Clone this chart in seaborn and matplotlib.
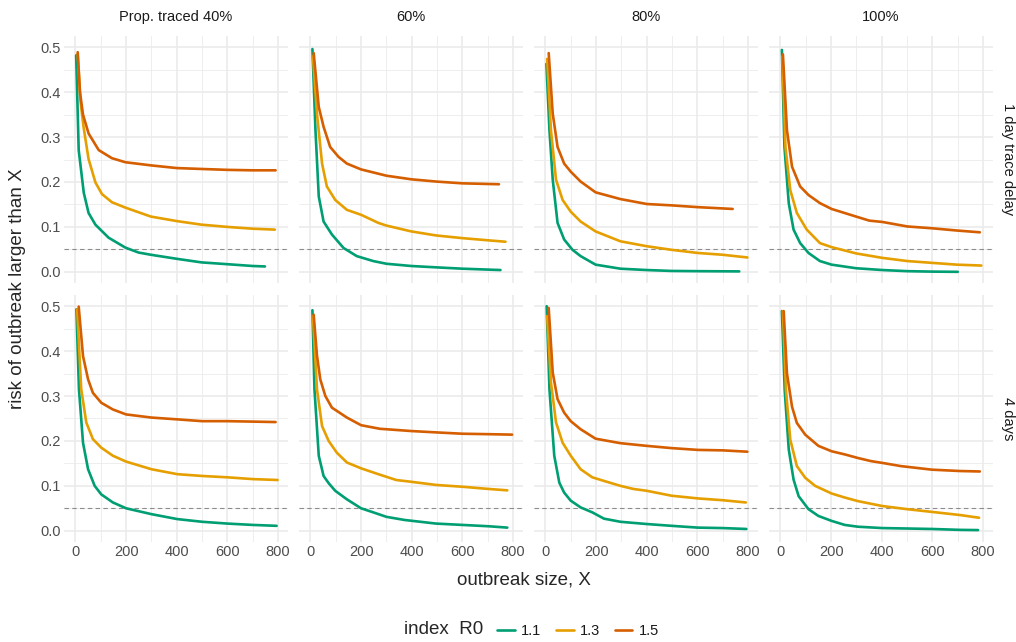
import pandas as pd
import matplotlib.pyplot as plt
import matplotlib.lines as mlines
import seaborn as sns

# column / row facet labels
traced = ["40%", "60%", "80%", "100%"]
delays = ["1 day trace delay", "4 days"]
r0_levels = ["1.1", "1.3", "1.5"]
r0_colors = {"1.1": "#009E73", "1.3": "#E69F00", "1.5": "#D55E00"}

# ---- 1 day trace delay ----
x_40_1d_r11 = [3, 13, 33, 52, 79, 131, 197, 249, 298, 400, 498, 600, 700, 748]
y_40_1d_r11 = [0.482, 0.271, 0.176, 0.131, 0.105, 0.076, 0.054, 0.043, 0.038, 0.029, 0.021, 0.017, 0.013, 0.012]
x_40_1d_r13 = [9, 20, 32, 52, 79, 105, 144, 197, 298, 400, 498, 600, 700, 787]
y_40_1d_r13 = [0.485, 0.38, 0.323, 0.251, 0.199, 0.173, 0.155, 0.143, 0.123, 0.113, 0.105, 0.100, 0.096, 0.094]
x_40_1d_r15 = [9, 18, 30, 52, 92, 144, 197, 298, 400, 498, 600, 700, 790]
y_40_1d_r15 = [0.489, 0.40, 0.35, 0.308, 0.271, 0.253, 0.244, 0.237, 0.231, 0.229, 0.227, 0.226, 0.226]

x_60_1d_r11 = [8, 20, 33, 52, 85, 131, 183, 248, 300, 398, 496, 600, 750]
y_60_1d_r11 = [0.496, 0.315, 0.168, 0.112, 0.083, 0.053, 0.035, 0.024, 0.018, 0.013, 0.010, 0.007, 0.004]
x_60_1d_r13 = [10, 26, 46, 65, 98, 144, 200, 268, 300, 398, 496, 600, 705, 770]
y_60_1d_r13 = [0.48, 0.352, 0.241, 0.19, 0.160, 0.138, 0.127, 0.109, 0.103, 0.090, 0.081, 0.075, 0.070, 0.067]
x_60_1d_r15 = [13, 33, 52, 78, 111, 144, 200, 300, 398, 496, 600, 744]
y_60_1d_r15 = [0.487, 0.367, 0.323, 0.278, 0.256, 0.241, 0.228, 0.214, 0.206, 0.201, 0.197, 0.195]

x_80_1d_r11 = [4, 16, 29, 48, 74, 107, 139, 198, 296, 400, 498, 602, 765]
y_80_1d_r11 = [0.463, 0.315, 0.205, 0.109, 0.072, 0.049, 0.035, 0.016, 0.007, 0.004, 0.002, 0.0015, 0.001]
x_80_1d_r13 = [7, 22, 42, 68, 100, 139, 198, 296, 400, 498, 602, 700, 797]
y_80_1d_r13 = [0.474, 0.315, 0.205, 0.160, 0.134, 0.112, 0.090, 0.068, 0.057, 0.049, 0.042, 0.038, 0.032]
x_80_1d_r15 = [13, 29, 48, 74, 100, 139, 198, 296, 400, 498, 602, 739]
y_80_1d_r15 = [0.487, 0.352, 0.278, 0.241, 0.223, 0.201, 0.177, 0.162, 0.151, 0.148, 0.144, 0.140]

x_100_1d_r11 = [6, 16, 33, 52, 78, 111, 156, 202, 299, 403, 501, 598, 700]
y_100_1d_r11 = [0.494, 0.278, 0.153, 0.094, 0.064, 0.042, 0.024, 0.016, 0.008, 0.004, 0.0015, 0.0005, 0.0]
x_100_1d_r13 = [8, 20, 39, 65, 104, 156, 202, 299, 403, 501, 598, 696, 793]
y_100_1d_r13 = [0.48, 0.278, 0.182, 0.131, 0.094, 0.064, 0.055, 0.041, 0.031, 0.024, 0.020, 0.016, 0.014]
x_100_1d_r15 = [10, 26, 46, 78, 111, 156, 202, 299, 351, 403, 501, 598, 696, 787]
y_100_1d_r15 = [0.484, 0.315, 0.234, 0.19, 0.171, 0.153, 0.140, 0.123, 0.114, 0.111, 0.101, 0.097, 0.092, 0.088]

# ---- 4 days ----
x_40_4d_r11 = [4, 14, 30, 50, 76, 102, 148, 200, 300, 402, 500, 600, 700, 794]
y_40_4d_r11 = [0.493, 0.315, 0.196, 0.137, 0.100, 0.081, 0.063, 0.050, 0.037, 0.026, 0.020, 0.016, 0.013, 0.011]
x_40_4d_r13 = [7, 23, 43, 69, 102, 148, 200, 300, 402, 500, 600, 700, 798]
y_40_4d_r13 = [0.493, 0.315, 0.241, 0.204, 0.185, 0.167, 0.154, 0.137, 0.126, 0.122, 0.119, 0.115, 0.113]
x_40_4d_r15 = [13, 30, 50, 69, 102, 148, 200, 300, 402, 500, 600, 700, 790]
y_40_4d_r15 = [0.499, 0.389, 0.337, 0.307, 0.285, 0.270, 0.259, 0.252, 0.248, 0.244, 0.244, 0.243, 0.242]

x_60_4d_r11 = [8, 16, 33, 52, 72, 98, 144, 200, 248, 300, 372, 496, 600, 705, 777]
y_60_4d_r11 = [0.491, 0.315, 0.167, 0.122, 0.106, 0.089, 0.070, 0.050, 0.041, 0.031, 0.024, 0.016, 0.013, 0.010, 0.007]
x_60_4d_r13 = [10, 26, 46, 72, 104, 144, 200, 268, 339, 398, 496, 600, 705, 777]
y_60_4d_r13 = [0.478, 0.315, 0.233, 0.200, 0.174, 0.152, 0.139, 0.126, 0.113, 0.109, 0.102, 0.098, 0.093, 0.090]
x_60_4d_r15 = [13, 26, 39, 59, 85, 104, 144, 200, 274, 300, 398, 496, 600, 705, 796]
y_60_4d_r15 = [0.481, 0.390, 0.337, 0.300, 0.274, 0.267, 0.252, 0.235, 0.227, 0.226, 0.222, 0.219, 0.216, 0.215, 0.214]

x_80_4d_r11 = [5, 16, 35, 55, 74, 100, 139, 185, 231, 296, 400, 498, 602, 700, 793]
y_80_4d_r11 = [0.5, 0.315, 0.167, 0.107, 0.085, 0.067, 0.052, 0.041, 0.027, 0.020, 0.015, 0.011, 0.007, 0.006, 0.004]
x_80_4d_r13 = [7, 22, 42, 68, 100, 139, 185, 231, 296, 348, 400, 498, 602, 700, 791]
y_80_4d_r13 = [0.478, 0.330, 0.241, 0.196, 0.167, 0.137, 0.119, 0.111, 0.100, 0.093, 0.089, 0.078, 0.072, 0.068, 0.063]
x_80_4d_r15 = [13, 29, 48, 74, 100, 139, 198, 296, 400, 498, 602, 700, 797]
y_80_4d_r15 = [0.496, 0.352, 0.293, 0.263, 0.244, 0.226, 0.205, 0.195, 0.189, 0.184, 0.180, 0.179, 0.176]

x_100_4d_r11 = [6, 17, 33, 52, 72, 111, 150, 202, 254, 306, 403, 501, 598, 709, 780]
y_100_4d_r11 = [0.489, 0.313, 0.181, 0.114, 0.077, 0.048, 0.033, 0.022, 0.013, 0.009, 0.006, 0.005, 0.004, 0.002, 0.0015]
x_100_4d_r13 = [10, 22, 39, 65, 98, 137, 202, 254, 306, 403, 501, 598, 709, 784]
y_100_4d_r13 = [0.489, 0.313, 0.203, 0.144, 0.118, 0.100, 0.083, 0.074, 0.066, 0.055, 0.048, 0.042, 0.035, 0.029]
x_100_4d_r15 = [13, 26, 46, 65, 98, 150, 202, 254, 306, 358, 403, 475, 598, 709, 787]
y_100_4d_r15 = [0.489, 0.350, 0.276, 0.240, 0.214, 0.189, 0.177, 0.170, 0.162, 0.155, 0.151, 0.144, 0.136, 0.133, 0.132]

threshold = 0.05

# build a long table from the named lists
curves = [
    ("40%", "1 day trace delay", "1.1", x_40_1d_r11, y_40_1d_r11),
    ("40%", "1 day trace delay", "1.3", x_40_1d_r13, y_40_1d_r13),
    ("40%", "1 day trace delay", "1.5", x_40_1d_r15, y_40_1d_r15),
    ("60%", "1 day trace delay", "1.1", x_60_1d_r11, y_60_1d_r11),
    ("60%", "1 day trace delay", "1.3", x_60_1d_r13, y_60_1d_r13),
    ("60%", "1 day trace delay", "1.5", x_60_1d_r15, y_60_1d_r15),
    ("80%", "1 day trace delay", "1.1", x_80_1d_r11, y_80_1d_r11),
    ("80%", "1 day trace delay", "1.3", x_80_1d_r13, y_80_1d_r13),
    ("80%", "1 day trace delay", "1.5", x_80_1d_r15, y_80_1d_r15),
    ("100%", "1 day trace delay", "1.1", x_100_1d_r11, y_100_1d_r11),
    ("100%", "1 day trace delay", "1.3", x_100_1d_r13, y_100_1d_r13),
    ("100%", "1 day trace delay", "1.5", x_100_1d_r15, y_100_1d_r15),
    ("40%", "4 days", "1.1", x_40_4d_r11, y_40_4d_r11),
    ("40%", "4 days", "1.3", x_40_4d_r13, y_40_4d_r13),
    ("40%", "4 days", "1.5", x_40_4d_r15, y_40_4d_r15),
    ("60%", "4 days", "1.1", x_60_4d_r11, y_60_4d_r11),
    ("60%", "4 days", "1.3", x_60_4d_r13, y_60_4d_r13),
    ("60%", "4 days", "1.5", x_60_4d_r15, y_60_4d_r15),
    ("80%", "4 days", "1.1", x_80_4d_r11, y_80_4d_r11),
    ("80%", "4 days", "1.3", x_80_4d_r13, y_80_4d_r13),
    ("80%", "4 days", "1.5", x_80_4d_r15, y_80_4d_r15),
    ("100%", "4 days", "1.1", x_100_4d_r11, y_100_4d_r11),
    ("100%", "4 days", "1.3", x_100_4d_r13, y_100_4d_r13),
    ("100%", "4 days", "1.5", x_100_4d_r15, y_100_4d_r15),
]
rows = []
for tr, dl, r0, xs, ys in curves:
    for xv, yv in zip(xs, ys):
        rows.append({"traced": tr, "delay": dl, "R0": r0, "size": xv, "risk": yv})
df = pd.DataFrame(rows)

sns.set_style("white")
plt.rcParams["font.family"] = ["Liberation Sans", "DejaVu Sans"]

W, H = 1016, 642
fig, axes = plt.subplots(2, 4, figsize=(W / 100, H / 100), dpi=100, sharex=True, sharey=True)
fig.subplots_adjust(left=64 / W, right=993 / W, top=1 - 36 / H, bottom=1 - 542 / H,
                    wspace=0.049, hspace=0.048)

grid_col = "#EBEBEB"
for i, dl in enumerate(delays):
    for j, tr in enumerate(traced):
        ax = axes[i, j]
        sub = df[(df.delay == dl) & (df.traced == tr)]
        sns.lineplot(data=sub, x="size", y="risk", hue="R0", hue_order=r0_levels,
                     palette=r0_colors, estimator=None, sort=False, legend=False,
                     linewidth=1.9, ax=ax)
        ax.axhline(threshold, color="#8C8C8C", linestyle=(0, (4, 3)), linewidth=0.8, zorder=1)
        ax.set_xlim(-45, 839)
        ax.set_ylim(-0.025, 0.525)
        ax.set_xticks([0, 200, 400, 600, 800])
        ax.set_xticks([100, 300, 500, 700], minor=True)
        ax.set_yticks([0, 0.1, 0.2, 0.3, 0.4, 0.5])
        ax.set_yticks([0.05, 0.15, 0.25, 0.35, 0.45], minor=True)
        ax.grid(which="major", color=grid_col, linewidth=1.2)
        ax.grid(which="minor", color=grid_col, linewidth=0.6)
        ax.set_axisbelow(True)
        for s in ax.spines.values():
            s.set_visible(False)
        ax.tick_params(which="both", length=0, labelsize=10.5, labelcolor="#4D4D4D", pad=2)
        ax.set_xlabel("")
        ax.set_ylabel("")
        if i == 0:
            title = "Prop. traced " + tr if j == 0 else tr
            ax.set_title(title, fontsize=10.5, color="#1A1A1A", pad=11)
        if j == 3:
            ax.text(1.035, 0.5, dl, transform=ax.transAxes, rotation=-90,
                    ha="left", va="center", fontsize=10.5, color="#1A1A1A")
        ax.yaxis.set_major_formatter(plt.FuncFormatter(lambda v, p: f"{v:.1f}"))
        ax.tick_params(labelbottom=(i == 1), labelleft=(j == 0))

fig.text(524 / W, 1 - 580 / H, "outbreak size, X", ha="center", va="center", fontsize=13.5)
fig.text(18 / W, 1 - 289 / H, "risk of outbreak larger than X", ha="center", va="center",
         rotation=90, fontsize=13.5)

# legend at the bottom with title on the left
fig.text(483 / W, 1 - 630 / H, "index  R0", ha="right", va="center", fontsize=13.5)
handles = [mlines.Line2D([], [], color=r0_colors[r], linewidth=1.9) for r in r0_levels]
fig.legend(handles, r0_levels, loc="center left", bbox_to_anchor=(484 / W, 1 - 631 / H),
           ncol=3, frameon=False, fontsize=10.5, handlelength=1.2, handletextpad=0.45,
           columnspacing=1.0, labelcolor="#1A1A1A")

fig.savefig("out.png", dpi=100)
